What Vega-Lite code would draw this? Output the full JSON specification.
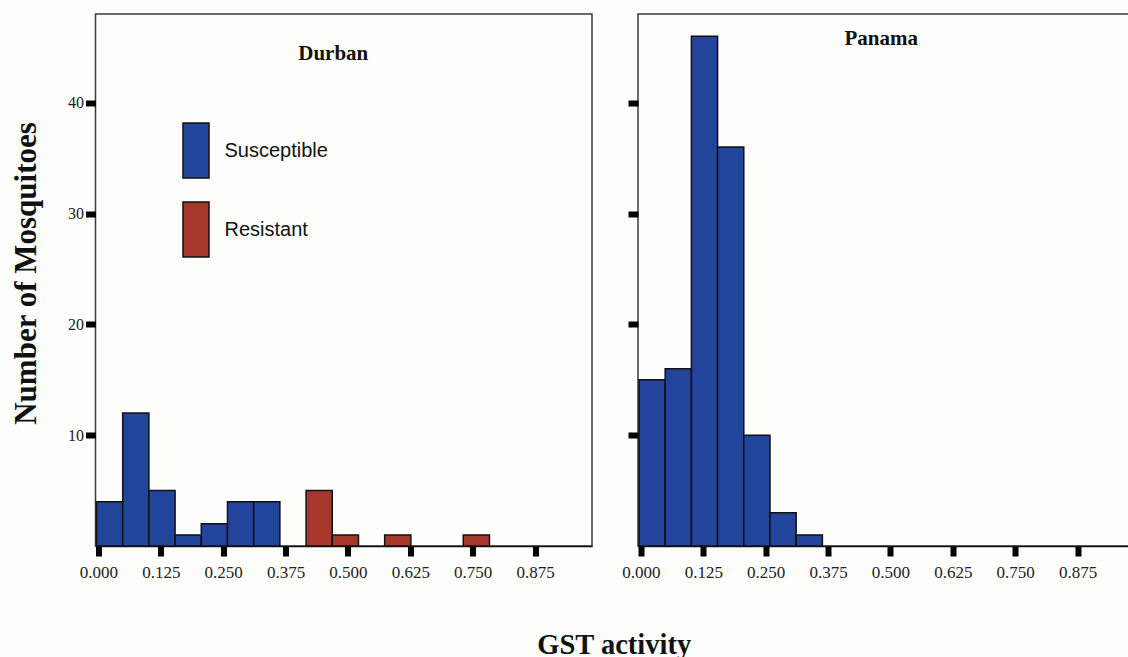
{
  "$schema": "https://vega.github.io/schema/vega-lite/v6.json",
  "background": "#fdfdfb",
  "padding": {"left": 8.5, "top": 13, "right": 0, "bottom": 5},
  "datasets": {
    "bins": [
      {"site": "Durban", "group": "Susceptible", "bin_start": -0.004, "bin_end": 0.0485, "count": 4},
      {"site": "Durban", "group": "Susceptible", "bin_start": 0.0485, "bin_end": 0.101, "count": 12},
      {"site": "Durban", "group": "Susceptible", "bin_start": 0.101, "bin_end": 0.1535, "count": 5},
      {"site": "Durban", "group": "Susceptible", "bin_start": 0.1535, "bin_end": 0.206, "count": 1},
      {"site": "Durban", "group": "Susceptible", "bin_start": 0.206, "bin_end": 0.2585, "count": 2},
      {"site": "Durban", "group": "Susceptible", "bin_start": 0.2585, "bin_end": 0.311, "count": 4},
      {"site": "Durban", "group": "Susceptible", "bin_start": 0.311, "bin_end": 0.3635, "count": 4},
      {"site": "Durban", "group": "Resistant", "bin_start": 0.416, "bin_end": 0.4685, "count": 5},
      {"site": "Durban", "group": "Resistant", "bin_start": 0.4685, "bin_end": 0.521, "count": 1},
      {"site": "Durban", "group": "Resistant", "bin_start": 0.5735, "bin_end": 0.626, "count": 1},
      {"site": "Durban", "group": "Resistant", "bin_start": 0.731, "bin_end": 0.7835, "count": 1},
      {"site": "Panama", "group": "Susceptible", "bin_start": -0.004, "bin_end": 0.0485, "count": 15},
      {"site": "Panama", "group": "Susceptible", "bin_start": 0.0485, "bin_end": 0.101, "count": 16},
      {"site": "Panama", "group": "Susceptible", "bin_start": 0.101, "bin_end": 0.1535, "count": 46},
      {"site": "Panama", "group": "Susceptible", "bin_start": 0.1535, "bin_end": 0.206, "count": 36},
      {"site": "Panama", "group": "Susceptible", "bin_start": 0.206, "bin_end": 0.2585, "count": 10},
      {"site": "Panama", "group": "Susceptible", "bin_start": 0.2585, "bin_end": 0.311, "count": 3},
      {"site": "Panama", "group": "Susceptible", "bin_start": 0.311, "bin_end": 0.3635, "count": 1}
    ]
  },
  "title": {
    "text": "GST activity",
    "orient": "bottom",
    "anchor": "middle",
    "font": "Liberation Serif",
    "fontSize": 28.5,
    "fontWeight": "bold",
    "color": "#111",
    "offset": 50,
    "dx": 42
  },
  "spacing": 27.5,
  "hconcat": [
    {
      "width": 496.5,
      "height": 532,
      "title": {
        "text": "Durban",
        "frame": "group",
        "anchor": "middle",
        "baseline": "middle",
        "offset": 0,
        "dy": 61,
        "dx": -10.5,
        "font": "Liberation Serif",
        "fontSize": 21,
        "fontWeight": "bold",
        "color": "#111"
      },
      "data": {"name": "bins"},
      "transform": [{"filter": "datum.site === 'Durban'"}],
      "mark": {"type": "bar", "stroke": "#111", "strokeWidth": 1.5, "opacity": 1},
      "encoding": {
        "x": {
          "field": "bin_start",
          "type": "quantitative",
          "scale": {"domain": [-0.006, 0.989], "nice": false, "zero": false},
          "axis": {
            "values": [0, 0.125, 0.25, 0.375, 0.5, 0.625, 0.75, 0.875],
            "format": ".3f",
            "title": null,
            "grid": false,
            "domainColor": "#111",
            "domainWidth": 1.5,
            "tickColor": "#000",
            "tickSize": 10,
            "tickWidth": 6,
            "labelFont": "Liberation Serif",
            "labelFontSize": 17,
            "labelColor": "#222",
            "labelPadding": 8.5,
            "labelFlush": false,
            "labelOverlap": false
          }
        },
        "x2": {"field": "bin_end"},
        "y": {
          "field": "count",
          "type": "quantitative",
          "stack": null,
          "scale": {"domain": [0, 48], "nice": false},
          "axis": {
            "values": [10, 20, 30, 40],
            "grid": false,
            "domain": false,
            "tickColor": "#000",
            "tickSize": 10,
            "tickWidth": 6,
            "labelFont": "Liberation Serif",
            "labelFontSize": 16,
            "labelColor": "#222",
            "labelPadding": 2,
            "title": "Number of Mosquitoes",
            "titleFont": "Liberation Serif",
            "titleFontSize": 31,
            "titleFontWeight": "bold",
            "titleColor": "#111",
            "titleX": -69.5,
            "titleY": 259,
            "titleAlign": "center",
            "titleBaseline": "middle"
          }
        },
        "y2": {"datum": 0},
        "color": {
          "field": "group",
          "type": "nominal",
          "scale": {"domain": ["Susceptible", "Resistant"], "range": ["#23449b", "#a5372d"]},
          "legend": {
            "orient": "none",
            "legendX": 72,
            "legendY": 108,
            "title": null,
            "padding": 0,
            "symbolType": "M-0.473,-1H0.473V1H-0.473Z",
            "symbolSize": 3025,
            "symbolStrokeColor": "#111",
            "symbolStrokeWidth": 1.5,
            "symbolOpacity": 1,
            "labelFont": "Liberation Sans",
            "labelFontSize": 20,
            "labelColor": "#111",
            "labelOffset": 0,
            "rowPadding": 18
          }
        }
      }
    },
    {
      "width": 496.5,
      "height": 532,
      "title": {
        "text": "Panama",
        "frame": "group",
        "anchor": "middle",
        "baseline": "middle",
        "offset": 0,
        "dy": 46,
        "dx": -5,
        "font": "Liberation Serif",
        "fontSize": 21,
        "fontWeight": "bold",
        "color": "#111"
      },
      "data": {"name": "bins"},
      "transform": [{"filter": "datum.site === 'Panama'"}],
      "mark": {"type": "bar", "stroke": "#111", "strokeWidth": 1.5, "opacity": 1},
      "encoding": {
        "x": {
          "field": "bin_start",
          "type": "quantitative",
          "scale": {"domain": [-0.006, 0.989], "nice": false, "zero": false},
          "axis": {
            "values": [0, 0.125, 0.25, 0.375, 0.5, 0.625, 0.75, 0.875],
            "format": ".3f",
            "title": null,
            "grid": false,
            "domainColor": "#111",
            "domainWidth": 1.5,
            "tickColor": "#000",
            "tickSize": 10,
            "tickWidth": 6,
            "labelFont": "Liberation Serif",
            "labelFontSize": 17,
            "labelColor": "#222",
            "labelPadding": 8.5,
            "labelFlush": false,
            "labelOverlap": false
          }
        },
        "x2": {"field": "bin_end"},
        "y": {
          "field": "count",
          "type": "quantitative",
          "stack": null,
          "scale": {"domain": [0, 48], "nice": false},
          "axis": {
            "values": [10, 20, 30, 40],
            "grid": false,
            "domain": false,
            "labels": false,
            "title": null,
            "tickColor": "#000",
            "tickSize": 10,
            "tickWidth": 6
          }
        },
        "y2": {"datum": 0},
        "color": {
          "field": "group",
          "type": "nominal",
          "scale": {"domain": ["Susceptible", "Resistant"], "range": ["#23449b", "#a5372d"]},
          "legend": null
        }
      }
    }
  ],
  "resolve": {"legend": {"color": "independent"}, "scale": {"color": "independent"}},
  "config": {
    "view": {"stroke": "#3a3a3a", "strokeWidth": 1.5}
  }
}
